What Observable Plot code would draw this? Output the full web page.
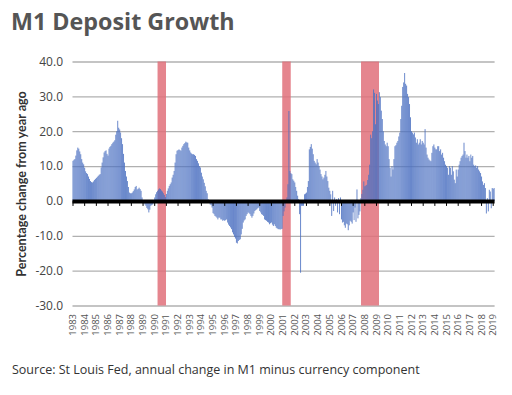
<!DOCTYPE html>
<html><head><meta charset="utf-8">
<script src="https://cdn.jsdelivr.net/npm/d3@7"></script>
<script src="https://cdn.jsdelivr.net/npm/@observablehq/plot@0.6"></script>
<style>
body{margin:0;background:#fff;width:512px;height:395px;overflow:hidden;position:relative;}
#title{position:absolute;left:11px;top:5px;font:bold 23.3px "Open Sans";color:#555;white-space:nowrap;}
#chart{position:absolute;left:0;top:44px;}
#caption{position:absolute;left:12px;top:361px;font:12.5px "Open Sans";color:#333;white-space:nowrap;}
g[aria-label="x-axis"] text, g[aria-label="x-axis tick label"] text{font-size:9.5px;fill:#555;}
g[aria-label="y-axis"] text, g[aria-label="y-axis tick label"] text{font-size:12px;fill:#444;}
</style></head><body>
<div id="title">M1 Deposit Growth</div>
<div id="chart"></div>
<div id="caption">Source: St Louis Fed, annual change in M1 minus currency component</div>
<script>
// Monthly annual % change, Jan 1983 onward
const growth1980s = [
  11.5, 11.8, 12, 13, 14.5, 15.3, 15, 14.2, 13.4, 12, 11, 10.5,
  9.5, 8.5, 8, 7.7, 7, 6.3, 5.7, 5.4, 5.3, 5.6, 6, 6.3,
  6.6, 6.9, 7.2, 7.5, 7.7, 9.6, 11, 12.5, 13.9, 14.3, 14.5, 13.5,
  13, 15, 15.5, 15.8, 16.3, 16.7, 17, 17.4, 19, 20, 23, 21,
  20.5, 19.6, 18, 16.3, 13.5, 11, 8.6, 7, 5.7, 4, 2.4, 2.2,
  2.2, 2.4, 2.8, 3.3, 4, 4.3, 3.3, 3.5, 3.8, 3.4, 2.9, 1,
  0.2, -0.5, -1, -1.4, -2, -2.4, -3.3, -2.5, -1.4, -1.2, -1, 0
];
const growth1990s = [
  1, 1.9, 2.5, 2.9, 3.3, 3.6, 3.4, 3, 2.7, 2.2, 1.7, 1.1,
  2, 2.9, 3.6, 4.3, 4.8, 5.3, 6.7, 7.5, 8.6, 11, 13.4, 14.4,
  14.6, 14.8, 14.6, 14.4, 15.3, 15.8, 16.3, 16.6, 17, 16.8, 16.7, 15.3,
  14.5, 13.9, 13.6, 13.4, 13.4, 13.2, 12.9, 12, 11.5, 10.8, 10, 9.6,
  8.1, 7, 6.2, 5.2, 4.2, 2.9, 2.2, 0.5, 0, -1, -1.2, -1.9,
  -3.5, -3.8, -4.3, -4.5, -4.8, -5.3, -4.8, -4.8, -5.3, -5.3, -5.7, -5.5,
  -5.7, -5.5, -5.3, -6.2, -6.8, -7.2, -7.6, -8.1, -9, -9.6, -10.3, -10.8,
  -12, -12.2, -11.5, -11.2, -11, -9.6, -8, -6.2, -5.6, -5.3, -4.3, -3.8,
  -3.3, -3.5, -3.8, -4.3, -4.8, -4.3, -3.6, -2.9, -2.6, -2.4, -2.1, -1.9,
  -2.9, -3.3, -3.8, -4, -4.3, -5.3, -5.5, -5.7, -6, -6.2, -6.7, -6.4
];
const growth2000s = [
  -6.2, -6.8, -7.2, -6.7, -7.2, -7.7, -7.9, -8.1, -8.1, -8.2, -8.1, -8,
  -4.3, -3, -1.9, 0, 1, 4.8, 25.8, 8.6, 8, 7.7, 6.2, 5.8,
  5.3, 4, 2.9, 1.5, 0.5, -3.8, -20.6, -1.4, -1.4, -1.4, 1.9, 2.1,
  2.4, 4, 5.7, 14.8, 15.5, 16.3, 15, 13.4, 11.5, 11, 10.5, 12,
  11, 10, 9, 7.7, 7, 6.2, 6.7, 7.5, 8.6, 7, 5.7, 3.8,
  2.9, 1.9, -4.3, 2.9, -2.9, 1, -1.4, 0.5, -3.3, 0.8, -3.8, 1,
  -5.3, -6.2, -6, -7, -7.7, -6.5, -6.7, -8.4, -7, -5.7, -6, -6.5,
  -3.3, -5.5, -1.9, -6, 3.3, -5, -4, -3, 0.8, 2, 3.2, 5.6,
  4.2, 4.4, 4.6, 6, 7.5, 10.4, 19, 18, 20, 32, 31, 22,
  30.7, 28.8, 27.8, 31.2, 29.8, 25.9, 23.5, 20, 17.2, 16.2, 15.7, 16.7
];
const growth2010s = [
  15.7, 12, 9.5, 7, 10, 9, 12, 15.7, 16, 16.7, 17.2, 18.5,
  19.6, 23.5, 27.3, 32.7, 34, 36.7, 33.6, 33.1, 30.7, 29.8, 27.8, 24,
  20, 19.6, 19.1, 19.6, 18.2, 16.7, 17.7, 16.2, 16.7, 17.7, 16.2, 17.2,
  16.7, 16.2, 20.6, 15.3, 13.3, 12.4, 11.9, 11.6, 11.4, 13.8, 15.7, 16.2,
  15.3, 14.8, 14.8, 15.7, 15.7, 14.3, 14.8, 13.3, 13.8, 12.4, 11.4, 10.4,
  10, 9.5, 7.5, 10, 9.5, 7.5, 10, 8.5, 6.1, 5.1, 9, 7,
  9, 10.4, 11.4, 12.4, 12.9, 13.3, 16.7, 14.3, 12.4, 13.3, 12.4, 12.9,
  11.4, 13.3, 12.4, 12.9, 10.4, 10, 10.2, 9.5, 10, 9, 8.5, 8,
  7, 5.6, 4.6, 5.1, 3.7, -3.6, 0.8, -3, 3.2, 2.7, -2.1, 3.7,
  3.5, 3.7
];
const yearLabels = [1983,1984,1985,1986,1987,1988,1989,1990,1991,1992,1993,1994,1995,1996,1997,1998,1999,2000,2001,2002,2003,2004,2005,2006,2007,2008,2009,2010,2011,2012,2013,2014,2015,2016,2017,2018,2019];
const yTickValues = [-30, -20, -10, 0, 10, 20, 30, 40];
const recessionStart = ["1990-04-15", "2000-12-20", "2007-09-20"];
const recessionEnd = ["1991-01-05", "2001-09-12", "2009-04-05"];

const allValues = [...growth1980s, ...growth1990s, ...growth2000s, ...growth2010s];
const startYear = yearLabels[0];
const series = allValues.map((v, i) => ({
  start: new Date(Date.UTC(startYear, i, 1)),
  end: new Date(Date.UTC(startYear, i + 1, 1)),
  value: v
}));
const recessions = recessionStart.map((s, i) => ({start: new Date(s), end: new Date(recessionEnd[i])}));
const yearDates = yearLabels.map(y => new Date(Date.UTC(y, 0, 1)));
const xDomain = [series[0].start, series[series.length - 1].end];

const chart = Plot.plot({
  width: 512,
  height: 300,
  marginLeft: 72.5,
  marginRight: 17.4,
  marginTop: 17.5,
  marginBottom: 38.5,
  style: {fontFamily: "Open Sans", background: "white", overflow: "visible"},
  x: {type: "utc", domain: xDomain, ticks: yearDates, tickFormat: d => String(d.getUTCFullYear()),
      tickRotate: -90, tickSize: 0, tickPadding: 8, label: null},
  y: {domain: [-30, 40], ticks: yTickValues, tickFormat: d => d.toFixed(1), tickSize: 0, tickPadding: 10, label: null},
  marks: [
    Plot.ruleY(yTickValues.filter(d => d !== 0), {stroke: "#b0b0b0", strokeWidth: 1.3}),
    Plot.rect(recessions, {x1: "start", x2: "end", fill: "#e0707a", fillOpacity: 0.85}),
    Plot.rectY(series, {x1: "start", x2: "end", y: "value", fill: "#4d72c2", fillOpacity: 0.85}),
    Plot.ruleY([0], {stroke: "black", strokeWidth: 4}),
    Plot.ruleX(yearDates, {x: d => d, y1: () => 0, y2: () => 0, insetBottom: -5, stroke: "black", strokeWidth: 1}),
    Plot.text(["Percentage change from year ago"], {frameAnchor: "left", textAnchor: "middle", rotate: -90, dx: -51, lineAnchor: "middle",
      fontFamily: "Lato", fontWeight: "bold", fontSize: 12.6, fill: "#333"})
  ]
});
document.getElementById("chart").appendChild(chart);
</script>
</body></html>
